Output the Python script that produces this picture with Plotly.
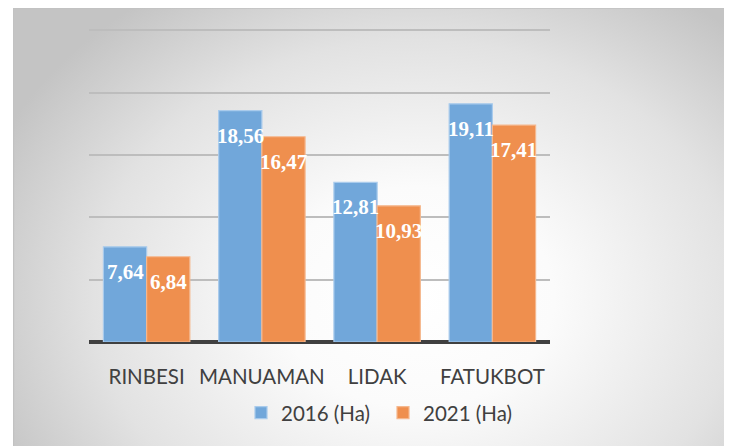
import base64
import plotly.graph_objects as go

categories = ["RINBESI", "MANUAMAN", "LIDAK", "FATUKBOT"]
series_names = ["2016 (Ha)", "2021 (Ha)"]
values_2016 = [7.64, 18.56, 12.81, 19.11]
values_2021 = [6.84, 16.47, 10.93, 17.41]

colors = ["#71a7da", "#ef8f4e"]
edges = ["#a9cbec", "#f5b88e"]

# the page puts the figure 8px in from the top-left corner,
# so keep the figure inside the 732x446 window
OFF = 8
W, H = 732 - OFF, 446 - OFF
YMAX = 26
unit = 312 / 25
pw, ph = 461, unit * YMAX
L = 89 - OFF
T = 342 - OFF - ph
R, B = W - L - pw, H - T - ph

# radial grey background as an svg image behind the plot
svg = """<svg xmlns='http://www.w3.org/2000/svg' width='760' height='470' preserveAspectRatio='none'>
<defs><radialGradient id='g' gradientUnits='userSpaceOnUse' cx='403' cy='290' r='460' gradientTransform='translate(403 290) scale(1 0.8) translate(-403 -290)'>
<stop offset='0' stop-color='#ffffff'/><stop offset='0.3' stop-color='#fbfbfb'/>
<stop offset='0.7' stop-color='#e2e2e2'/><stop offset='1' stop-color='#c4c4c4'/></radialGradient></defs>
<rect x='0' y='0' width='760' height='470' fill='url(#g)'/>
<rect x='0.5' y='0.5' width='800' height='500' fill='none' stroke='#c2c2c2' stroke-width='1.5'/>
</svg>"""
src = "data:image/svg+xml;base64," + base64.b64encode(svg.encode()).decode()

fig = go.Figure()
for name, vals, c, e in zip(series_names, [values_2016, values_2021], colors, edges):
    fig.add_trace(go.Bar(x=categories, y=vals, name=name,
                         marker=dict(color=c, line=dict(color=e, width=1.2))))

# value labels, inside near the top of each bar
for k, vals in enumerate([values_2016, values_2021]):
    for cat, v in zip(categories, vals):
        fig.add_annotation(x=cat, y=v, xref="x", yref="y",
                           text="<b>" + f"{v:.2f}".replace(".", ",") + "</b>",
                           showarrow=False,
                           xshift=-21.5 if k == 0 else 21.5, yshift=-25,
                           yanchor="middle",
                           font=dict(family="Liberation Serif", size=21, color="white"))

fig.add_layout_image(source=src, xref="paper", yref="paper",
                     x=(13 - OFF - L) / pw, y=(T + ph - (7 - OFF)) / ph,
                     sizex=760 / pw, sizey=470 / ph,
                     sizing="stretch", layer="below", xanchor="left", yanchor="top")

fig.update_layout(
    width=W, height=H,
    margin=dict(l=L, r=R, t=T, b=B),
    paper_bgcolor="white", plot_bgcolor="rgba(0,0,0,0)",
    barmode="group", bargap=0.25, bargroupgap=0,
    font=dict(family="Lato", size=20.5, color="#404040"),
    showlegend=True,
    legend=dict(orientation="h", x=(383 - OFF - L) / pw, y=(T + ph - (413 - OFF)) / ph,
                xanchor="center", yanchor="middle",
                font=dict(size=20.5, color="#404040"), bgcolor="rgba(0,0,0,0)",
                traceorder="normal", entrywidth=97),
    xaxis=dict(showgrid=False, ticks="", ticklabelstandoff=20,
               tickfont=dict(size=20.5, color="#404040")),
    yaxis=dict(range=[0, YMAX], dtick=5, showticklabels=False, ticks="",
               gridcolor="#bdbdbd", gridwidth=1.5,
               zeroline=True, zerolinecolor="#404040", zerolinewidth=3.5),
)

# no scrollbars: the figure plus the page margin is just larger than the window
fig.write_html("out.html", post_script="document.documentElement.style.overflow='hidden';")
